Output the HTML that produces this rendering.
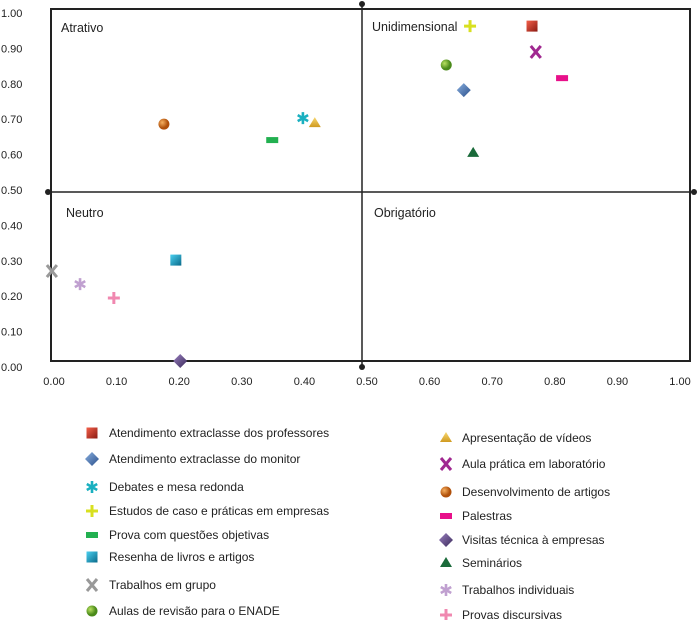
<!DOCTYPE html>
<html><head><meta charset="utf-8"><style>
body{margin:0;background:#fff;}
svg{display:block;font-family:"Liberation Sans",sans-serif;}
.t{font-size:11px;fill:#222;}
.q{font-size:12.5px;fill:#222;}
.l{font-size:12px;fill:#222;}
</style></head><body>
<svg id="c" width="699" height="620" viewBox="0 0 699 620">
<defs>
<linearGradient id="gR" x1="0" y1="0" x2="1" y2="1"><stop offset="0" stop-color="#f4604a"/><stop offset="1" stop-color="#8a1a12"/></linearGradient>
<linearGradient id="gB" x1="0" y1="0" x2="1" y2="1"><stop offset="0" stop-color="#8ab0e0"/><stop offset="1" stop-color="#2a4f8a"/></linearGradient>
<linearGradient id="gC" x1="0" y1="0" x2="1" y2="1"><stop offset="0" stop-color="#4ad0f0"/><stop offset="1" stop-color="#0a6a8a"/></linearGradient>
<radialGradient id="gO" cx="0.35" cy="0.35"><stop offset="0" stop-color="#f6b060"/><stop offset="1" stop-color="#b0500a"/></radialGradient>
<radialGradient id="gG" cx="0.35" cy="0.35"><stop offset="0" stop-color="#b8e060"/><stop offset="1" stop-color="#4a8a1a"/></radialGradient>
<linearGradient id="gP" x1="0" y1="0" x2="1" y2="1"><stop offset="0" stop-color="#9a80c0"/><stop offset="1" stop-color="#3a2a5a"/></linearGradient>
<linearGradient id="gY" x1="0" y1="0" x2="0" y2="1"><stop offset="0" stop-color="#f8d870"/><stop offset="1" stop-color="#d09a20"/></linearGradient>
</defs>
<g id="frame">
<rect x="51" y="9" width="639" height="352" fill="none" stroke="#222" stroke-width="2"/>
<line x1="362" y1="4" x2="362" y2="367" stroke="#222" stroke-width="1.5"/>
<line x1="48" y1="192" x2="694" y2="192" stroke="#222" stroke-width="1.5"/>
<circle cx="362" cy="4" r="3" fill="#222"/><circle cx="362" cy="367" r="3" fill="#222"/>
<circle cx="48" cy="192" r="3" fill="#222"/><circle cx="694" cy="192" r="3" fill="#222"/>
</g>
<text class="q" x="61" y="32">Atrativo</text>
<text class="q" x="372" y="31">Unidimensional</text>
<text class="q" x="66" y="217">Neutro</text>
<text class="q" x="374" y="217">Obrigatório</text>
<g id="axes"></g><g id="pts"></g><g id="leg"></g>
</svg>
<script>
const xTicks=[0,0.1,0.2,0.3,0.4,0.5,0.6,0.7,0.8,0.9,1.0];
const yTicks=[0,0.1,0.2,0.3,0.4,0.5,0.6,0.7,0.8,0.9,1.0];
const names=["Atendimento extraclasse dos professores","Atendimento extraclasse do monitor","Debates e mesa redonda","Estudos de caso e práticas em empresas","Prova com questões objetivas","Resenha de livros e artigos","Trabalhos em grupo","Aulas de revisão para o ENADE","Apresentação de vídeos","Aula prática em laboratório","Desenvolvimento de artigos","Palestras","Visitas técnica à empresas","Seminários","Trabalhos individuais","Provas discursivas"];
const xVals=[0.77,0.661,0.404,0.671,0.355,0.201,0.003,0.633,0.423,0.776,0.182,0.818,0.208,0.676,0.048,0.102];
const yVals=[0.963,0.782,0.703,0.963,0.641,0.302,0.271,0.853,0.689,0.89,0.686,0.816,0.017,0.605,0.234,0.195];
const shapes=["sq:url(#gR)","dia:url(#gB)","ast:#1ab0c0","plus:#d8e020","rect:#22b050","sq:url(#gC)","x:#999","circ:url(#gG)","tri:url(#gY)","x:#a02890","circ:url(#gO)","rect:#e8108a","dia:url(#gP)","tri:#1a6a3a","ast:#c0a0d0","plus:#f088b0"];
const X=v=>50+v*626, Y=v=>367-v*354;
const NS="http://www.w3.org/2000/svg";
function mk(t,a,p){const e=document.createElementNS(NS,t);for(const k in a)e.setAttribute(k,a[k]);p.appendChild(e);return e;}
const ax=document.getElementById('axes');
xTicks.forEach((v,i)=>{const e=mk('text',{class:'t',x:X(v)+4,y:385,'text-anchor':'middle'},ax);e.textContent=v.toFixed(2);

});
yTicks.forEach((v,i)=>{const e=mk('text',{class:'t',x:1,y:Y(v)+4},ax);e.textContent=v.toFixed(2);

});
function marker(s,cx,cy,p){const [k,c]=s.split(':');let g=mk('g',{},p);
if(k=='sq')mk('rect',{x:cx-5.5,y:cy-5.5,width:11,height:11,fill:c},g);
else if(k=='dia')mk('path',{d:`M${cx} ${cy-7}L${cx+7} ${cy}L${cx} ${cy+7}L${cx-7} ${cy}Z`,fill:c},g);
else if(k=='rect')mk('rect',{x:cx-6,y:cy-3,width:12,height:6,fill:c},g);
else if(k=='circ')mk('circle',{cx:cx,cy:cy,r:5.5,fill:c},g);
else if(k=='tri')mk('path',{d:`M${cx} ${cy-6}L${cx+6} ${cy+4}L${cx-6} ${cy+4}Z`,fill:c},g);
else if(k=='plus'){mk('path',{d:`M${cx-6} ${cy}H${cx+6}M${cx} ${cy-6}V${cy+6}`,stroke:c,'stroke-width':3},g);}
else if(k=='x'){mk('path',{d:`M${cx-5} ${cy-6}L${cx+5} ${cy+6}M${cx+5} ${cy-6}L${cx-5} ${cy+6}`,stroke:c,'stroke-width':3},g);}
else if(k=='ast'){mk('path',{d:`M${cx} ${cy-6}V${cy+6}M${cx-5.2} ${cy-3}L${cx+5.2} ${cy+3}M${cx+5.2} ${cy-3}L${cx-5.2} ${cy+3}`,stroke:c,'stroke-width':2.6},g);}
return g;}
const pts=document.getElementById('pts');
xVals.forEach((v,i)=>{const g=marker(shapes[i],X(v),Y(yVals[i]),pts);

});
const leg=document.getElementById('leg');
const lRows=[433,459,487,511,535,557,585,611], rRows=[438,464,492,516,540,563,590,615];
names.forEach((n,i)=>{const left=i<8;const y=left?lRows[i]:rRows[i-8];const mx=left?92:446, tx=left?109:462;
const g=mk('g',{},leg);


marker(shapes[i],mx,y,g);
const t=mk('text',{class:'l',x:tx,y:y+4},g);t.textContent=n;});
</script>
</body></html>
